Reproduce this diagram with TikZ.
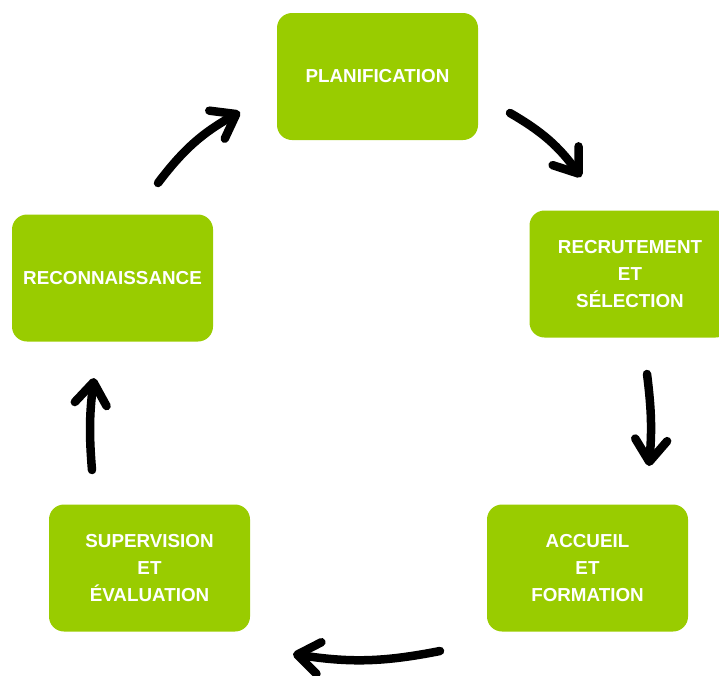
\documentclass[tikz,border=0pt]{standalone}
\usepackage{fontspec}
\setmainfont{Liberation Sans}
\usetikzlibrary{positioning}
\usetikzlibrary{arrows.meta}
\definecolor{leafgreen}{RGB}{153,204,0}

\begin{document}
\begin{tikzpicture}[
                          x=1pt, y=-1pt,
                          stagenode/.style={rectangle, rounded corners=15pt, fill=leafgreen, minimum width=201pt, minimum height=127pt, text=white, align=center, font=\bfseries\fontsize{18.8}{27}\selectfont},
                          cyclearrow/.style={line width=8.5pt, line cap=round, -{Straight Barb[length=22pt, width=32pt, round]}},
                      ]
                      \useasboundingbox (0,0) rectangle (719,675);

                      %Nodes
                      \node[stagenode]      (plan)    at (377.5,76.5)    {PLANIFICATION};
                      \node[stagenode]      (recrut)  at (630,274)       {RECRUTEMENT\\ET\\SÉLECTION};
                      \node[stagenode]      (accueil) at (587.5,568)     {ACCUEIL\\ET\\FORMATION};
                      \node[stagenode]      (superv)  at (149.5,568)     {SUPERVISION\\ET\\ÉVALUATION};
                      \node[stagenode]      (reco)    at (112.5,278)     {RECONNAISSANCE};

                      %Arrow ends
                      \coordinate (reco_out)    at (158,183);
                      \coordinate (plan_in)     at (240,112);
                      \coordinate (plan_out)    at (510,113);
                      \coordinate (recrut_in)   at (581,177);
                      \coordinate (recrut_out)  at (647,374);
                      \coordinate (accueil_in)  at (649,466);
                      \coordinate (accueil_out) at (440,651);
                      \coordinate (superv_in)   at (293,654);
                      \coordinate (superv_out)  at (92,470);
                      \coordinate (reco_in)     at (94,378);

                      %Lines
                      \draw[cyclearrow] (reco_out) to[bend left=12] (plan_in);
                      \draw[cyclearrow] (plan_out) to[bend left=12] (recrut_in);
                      \draw[cyclearrow] (recrut_out) to[bend left=6] (accueil_in);
                      \draw[cyclearrow] (accueil_out) to[bend left=10] (superv_in);
                      \draw[cyclearrow] (superv_out) to[bend left=6] (reco_in);
                  \end{tikzpicture}
\end{document}
